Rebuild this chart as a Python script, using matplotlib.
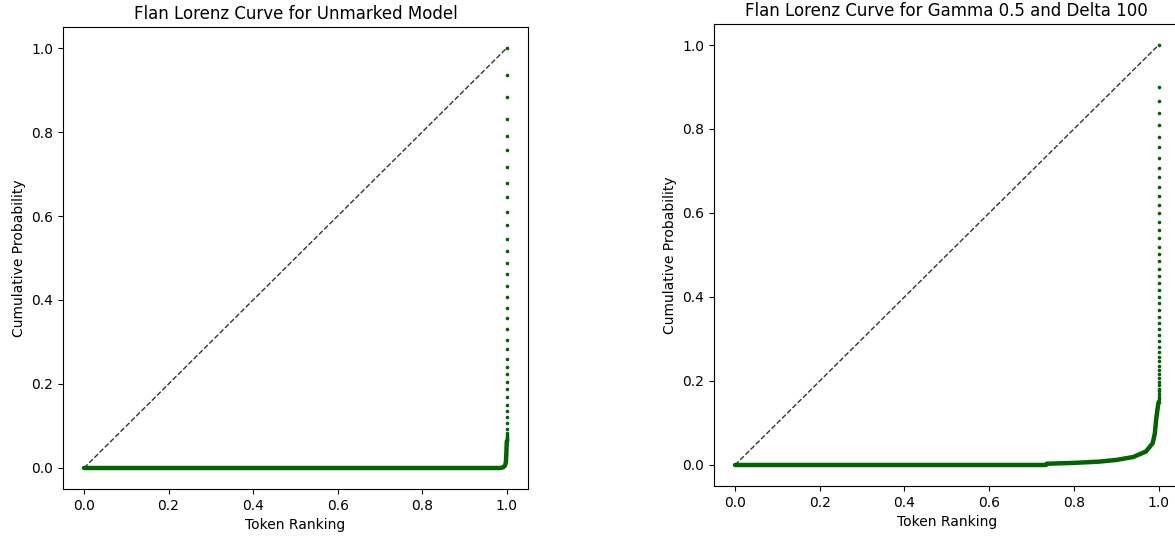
import numpy as np
import matplotlib
matplotlib.use('Agg')
import matplotlib.pyplot as plt

# cumulative probability of the top-ranked tokens (the separate dots at rank ~1.0)
unmarked_top = [1.0, 0.936, 0.883, 0.832, 0.791, 0.756, 0.717, 0.679, 0.645, 0.610,
                0.579, 0.546, 0.517, 0.489, 0.461, 0.434, 0.408, 0.382, 0.356, 0.332,
                0.305, 0.283, 0.259, 0.241, 0.223, 0.205, 0.188, 0.170, 0.150, 0.136,
                0.122, 0.108, 0.094, 0.083, 0.078, 0.074, 0.071, 0.068, 0.066, 0.064]
gamma_top = [1.0, 0.901, 0.867, 0.837, 0.809, 0.782, 0.756, 0.732, 0.708, 0.685,
             0.663, 0.641, 0.620, 0.599, 0.579, 0.559, 0.540, 0.520, 0.502, 0.485,
             0.467, 0.450, 0.434, 0.417, 0.401, 0.385, 0.369, 0.353, 0.338, 0.323,
             0.309, 0.295, 0.282, 0.270, 0.258, 0.247, 0.236, 0.226, 0.216, 0.207,
             0.198, 0.190, 0.182, 0.175, 0.168, 0.162, 0.156, 0.150]
top_rank = 1.0

# bulk of the curve (thousands of tiny-probability tokens, drawn as a dense band)
unmarked_rank = [0.0, 0.5, 0.985, 0.992, 0.996, 0.998, 0.999, 1.0]
unmarked_cum = [0.0, 0.0, 0.0, 0.002, 0.006, 0.015, 0.035, 0.064]
gamma_rank = [0.0, 0.734, 0.736, 0.80, 0.86, 0.90, 0.94, 0.97, 0.986, 0.991, 0.994, 0.997, 0.999, 1.0]
gamma_cum = [0.0, 0.0, 0.003, 0.005, 0.008, 0.012, 0.019, 0.032, 0.052, 0.075, 0.107, 0.13, 0.145, 0.150]

ticks = [0.0, 0.2, 0.4, 0.6, 0.8, 1.0]

fig = plt.figure(figsize=(11.75, 5.37), dpi=100)
ax1 = fig.add_axes([0.0535, 0.0894, 0.3958, 0.8603])
ax2 = fig.add_axes([0.6075, 0.0950, 0.3966, 0.8603])

panels = [
    (ax1, unmarked_rank, unmarked_cum, unmarked_top, 'Flan Lorenz Curve for Unmarked Model'),
    (ax2, gamma_rank, gamma_cum, gamma_top, 'Flan Lorenz Curve for Gamma 0.5 and Delta 100'),
]

for ax, rank, cum, top, title in panels:
    ax.plot([0, 1], [0, 1], '--', color='0.2', lw=1)
    ax.plot(rank, cum, color='darkgreen', lw=3.2, solid_capstyle='round')
    ax.plot([top_rank] * len(top), top, 'o', color='darkgreen', ms=1.6, ls='none')
    ax.set_xlim(-0.05, 1.05)
    ax.set_ylim(-0.05, 1.05)
    ax.set_xticks(ticks)
    ax.set_yticks(ticks)
    ax.set_title(title, fontsize=12)
    ax.set_xlabel('Token Ranking')
    ax.set_ylabel('Cumulative Probability')

plt.savefig('out.png', dpi=100)
